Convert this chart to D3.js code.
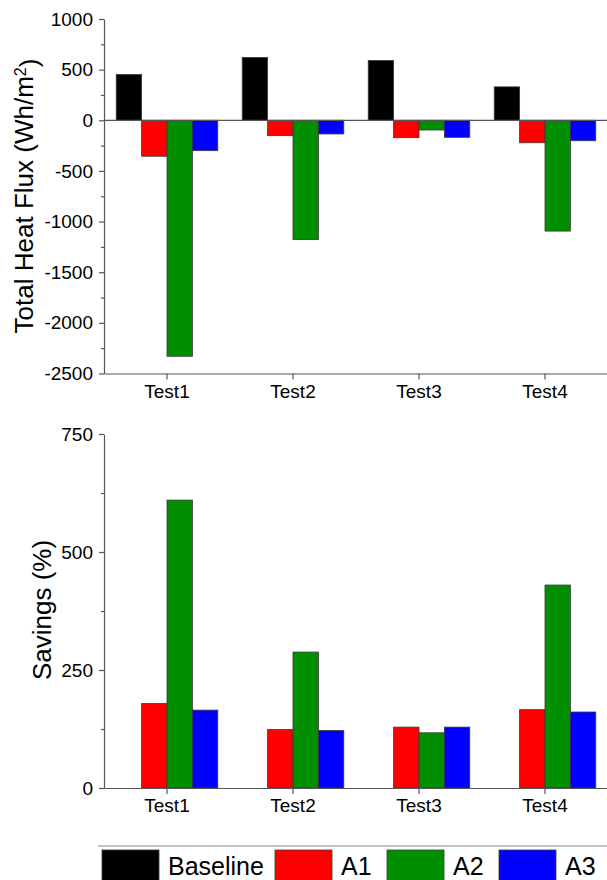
<!DOCTYPE html>
<html>
<head>
<meta charset="utf-8">
<script src="https://cdn.jsdelivr.net/npm/d3@7"></script>
<style>
	body { margin: 0; background: #fff; }
	text { font-family: "Liberation Sans", Arial, sans-serif; fill: #000; }
</style>
</head>
<body>
<script>
// chart data
var tests = ["Test1", "Test2", "Test3", "Test4"];
var series = ["Baseline", "A1", "A2", "A3"];
var colors = ["#000000", "#ff0000", "#008f00", "#0000ff"];

// total heat flux (Wh/m2), one array per series
var fluxBaseline = [452, 620, 590, 330];
var fluxA1 = [-355, -152, -172, -222];
var fluxA2 = [-2330, -1178, -96, -1094];
var fluxA3 = [-300, -135, -168, -202];

// savings (%), no baseline bar
var saveA1 = [179, 124, 129, 166];
var saveA2 = [610, 288, 117, 430];
var saveA3 = [165, 122, 129, 161];

var fluxTicks = [-2500, -2000, -1500, -1000, -500, 0, 500, 1000];
var fluxMinor = [-2250, -1750, -1250, -750, -250, 250, 750];
var saveTicks = [0, 250, 500, 750];
var saveMinor = [125, 375, 625];

function graph(){
	var width = 607, height = 880;
	var left = 104, right = 608;

	var svg = d3.select("body")
				.append("svg")
				.attr("width", width)
				.attr("height", height);

	var xScale = d3.scaleBand()
		.domain(tests)
		.range([left, right])
		.paddingInner(0.194)
		.paddingOuter(0.097);

	var xSub = d3.scaleBand()
		.domain(series)
		.range([0, xScale.bandwidth()]);

	var color = d3.scaleOrdinal().domain(series).range(colors);

	function panel(rows, yDomain, yRange, major, minor, title, titleY, titleX){
		var yScale = d3.scaleLinear().domain(yDomain).range(yRange);
		var g = svg.append("g");

		// bars
		rows.forEach(function(r){
			g.selectAll(null)
				.data(r.values.map(function(v, i){ return {test: tests[i], v: v}; }))
				.enter()
				.append("rect")
				.attr("x", function(d){ return xScale(d.test) + xSub(r.name); })
				.attr("width", xSub.bandwidth())
				.attr("y", function(d){ return yScale(Math.max(0, d.v)); })
				.attr("height", function(d){ return Math.abs(yScale(d.v) - yScale(0)); })
				.style("fill", color(r.name))
				.style("stroke", "#3a3a3a")
				.style("stroke-width", 0.8);
		});

		// zero line
		if (yDomain[0] < 0) {
			g.append("line")
				.attr("x1", left).attr("x2", right)
				.attr("y1", yScale(0)).attr("y2", yScale(0))
				.style("stroke", "#555").style("stroke-width", 1.2);
		}

		var yAxis = d3.axisLeft(yScale)
			.tickValues(major)
			.tickSize(5)
			.tickSizeOuter(0)
			.tickPadding(6)
			.tickFormat(function(d){ return String(d); });
		var yMinor = d3.axisLeft(yScale).tickValues(minor).tickSize(3).tickFormat("");
		var xAxis = d3.axisBottom(xScale).tickSize(6).tickSizeOuter(0).tickPadding(5);

		var ya = g.append("g").attr("transform", "translate(" + left + ",0)").call(yAxis);
		g.append("g").attr("transform", "translate(" + left + ",0)").call(yMinor)
			.select(".domain").remove();
		var xa = g.append("g").attr("transform", "translate(0," + yRange[0] + ")").call(xAxis);

		[ya, xa].forEach(function(a){
			a.selectAll("path, line").style("stroke", "#555").style("stroke-width", 1.2);
			a.selectAll("text").style("font-size", "19px")
				.style("font-family", "'Liberation Sans', Arial, sans-serif").style("fill", "#000");
		});
		g.selectAll("g line").style("stroke", "#555").style("stroke-width", 1.2);

		var t = g.append("text")
			.attr("transform", "translate(" + titleX + "," + titleY + ") rotate(-90)")
			.attr("text-anchor", "middle")
			.style("font-size", "26px");
		title(t);
	}

	panel([{name: "Baseline", values: fluxBaseline},
		   {name: "A1", values: fluxA1},
		   {name: "A2", values: fluxA2},
		   {name: "A3", values: fluxA3}],
		  [-2500, 1000], [373.5, 19], fluxTicks, fluxMinor,
		  function(t){
			t.append("tspan").text("Total Heat Flux (Wh/m");
			t.append("tspan").attr("dy", "-0.45em").style("font-size", "16px").text("2");
			t.append("tspan").attr("dy", "0.45em").text(")");
		  }, 196, 33);

	panel([{name: "A1", values: saveA1},
		   {name: "A2", values: saveA2},
		   {name: "A3", values: saveA3}],
		  [0, 750], [788, 434], saveTicks, saveMinor,
		  function(t){ t.text("Savings (%)"); }, 610, 51);

	// legend
	var legend = svg.append("g");
	legend.append("line")
		.attr("x1", 98).attr("x2", width)
		.attr("y1", 846).attr("y2", 846)
		.style("stroke", "#c4c4c4").style("stroke-width", 2);

	var legendX = [102, 275, 387, 499];
	var item = legend.selectAll(".item")
		.data(series)
		.enter()
		.append("g")
		.attr("transform", function(d, i){ return "translate(" + legendX[i] + ",850)"; });
	item.append("rect")
		.attr("width", 57).attr("height", 34)
		.style("fill", function(d){ return color(d); })
		.style("stroke", "#3a3a3a").style("stroke-width", 0.8);
	item.append("text")
		.attr("x", 66).attr("y", 25)
		.style("font-size", "25px")
		.text(function(d){ return d; });
}

graph()
</script>
</body>
</html>
